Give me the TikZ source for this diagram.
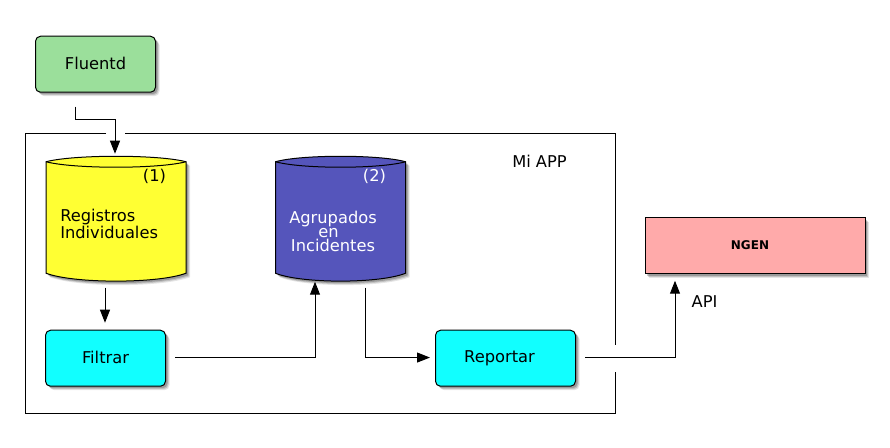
\documentclass[tikz,border=0pt]{standalone}
\usepackage{fontspec}
\setmainfont{DejaVu Sans}
\usetikzlibrary{shadows,arrows.meta}
\def\px{.75pt}
\definecolor{fluentgreen}{HTML}{9BDF9B}
\definecolor{dbyellow}{HTML}{FFFF33}
\definecolor{dbblue}{HTML}{5555BB}
\definecolor{boxcyan}{HTML}{11FFFF}
\definecolor{boxpink}{HTML}{FFAAAA}
\tikzset{
  softshadow/.style={
    general shadow={fill=black,opacity=.10,shadow xshift=4*\px,shadow yshift=-4*\px},
    general shadow={fill=black,opacity=.15,shadow xshift=3*\px,shadow yshift=-3*\px},
    general shadow={fill=black,opacity=.20,shadow xshift=2*\px,shadow yshift=-2*\px}},
  boxbase/.style={draw=black,line width=\px,inner sep=0pt,outer sep=0pt,softshadow},
  roundbox/.style={boxbase,rectangle,rounded corners=5*\px,minimum height=56*\px},
  plainbox/.style={boxbase,rectangle,minimum width=220*\px,minimum height=56*\px},
  lbl/.style={font=\fontsize{12.2pt}{10.3pt}\selectfont,inner sep=0pt,text=black},
  wlbl/.style={lbl,text=white},
  link/.style={draw=black,line width=\px,-{Triangle[length=13*\px,width=10*\px]}},
  framel/.style={draw=black,line width=\px},
  cylline/.style={draw=black,line width=\px}
}
\newcommand{\cylbody}[2]{%
  (#1,161) -- (#1,272.5)
  .. controls ({#1+.2*(#2-#1)},283) and ({#2-.2*(#2-#1)},283) .. (#2,272.5)
  -- (#2,161)
  .. controls ({#2-.2*(#2-#1)},153.7) and ({#1+.2*(#2-#1)},153.7) .. (#1,161) -- cycle}
\newcommand{\dbcylinder}[3]{%
  \fill[black,opacity=.10] [shift={(4,4)}] \cylbody{#1}{#2};
  \fill[black,opacity=.15] [shift={(3,3)}] \cylbody{#1}{#2};
  \fill[black,opacity=.20] [shift={(2,2)}] \cylbody{#1}{#2};
  \filldraw[cylline,fill=#3] \cylbody{#1}{#2};
  \draw[cylline] (#1,161) .. controls ({#1+.2*(#2-#1)},168.3) and ({#2-.2*(#2-#1)},168.3) .. (#2,161);
}
\begin{document}
\begin{tikzpicture}[x=\px,y=-\px]
\useasboundingbox[fill=white] (0,0) rectangle (890,448);
\begin{scope}[yshift=-.75*\px]
% frame
\coordinate (fa) at (106,133);
\coordinate (fb) at (125,133);
\coordinate (fc) at (615,133);
\coordinate (fd) at (615,344);
\coordinate (fe) at (615,371);
\coordinate (ff) at (615,413);
\coordinate (fg) at (25,413);
\coordinate (fh) at (25,133);
\draw[framel] (fd) -- (fc) -- (fb);
\draw[framel] (fa) -- (fh) -- (fg) -- (ff) -- (fe);
% nodes
\node[roundbox,fill=fluentgreen,minimum width=120*\px] (fluentd) at (95.5,63.5) {};
\dbcylinder{46}{186}{dbyellow}
\dbcylinder{275.5}{405.5}{dbblue}
\node[roundbox,fill=boxcyan,minimum width=120*\px] (filtrar) at (105.5,357.5) {};
\node[roundbox,fill=boxcyan,minimum width=140*\px] (reportar) at (505.5,357.5) {};
\node[plainbox,fill=boxpink] (ngen) at (755,245) {};
% labels
\node[lbl] (tfluentd) at (95.5,62.5) {Fluentd};
\node[lbl] (tone) at (154.5,175.5) {(1)};
\node[wlbl] (ttwo) at (374.5,175.5) {(2)};
\node[lbl,align=left,anchor=west] (treg) at (60,223) {Registros\\Individuales};
\node[wlbl,align=center] (tagr) at (333,230.5) {Agrupados\\\hspace*{-6\px}en\\Incidentes};
\node[lbl] (tfil) at (105.5,356.5) {Filtrar};
\node[lbl] (trep) at (499.5,358) {Reportar};
\node[lbl] (tmi) at (539.5,160.5) {Mi APP};
\node[lbl] (tapi) at (704.5,300.5) {API};
\node[lbl,font=\bfseries\fontsize{9pt}{10pt}\selectfont] (tngen) at (750,244.5) {NGEN};
% connectors
\coordinate (c1) at (75,106);
\coordinate (c2) at (115,119);
\coordinate (c3) at (115,153);
\draw[link] (c1) -- (75,119) -- (c2) -- (c3);
\coordinate (c4) at (105,287);
\coordinate (c5) at (105,322);
\draw[link] (c4) -- (c5);
\coordinate (c6) at (175,356.8);
\draw[link] (c6) -- (315,356.8) -- (315,281);
\coordinate (c7) at (365,287);
\coordinate (c8) at (430,356.8);
\draw[link] (c7) -- (365,356.8) -- (c8);
\coordinate (c9) at (585,356.8);
\coordinate (c10) at (675,280);
\draw[link] (c9) -- (675,356.8) -- (c10);
\end{scope}
\end{tikzpicture}
\end{document}
